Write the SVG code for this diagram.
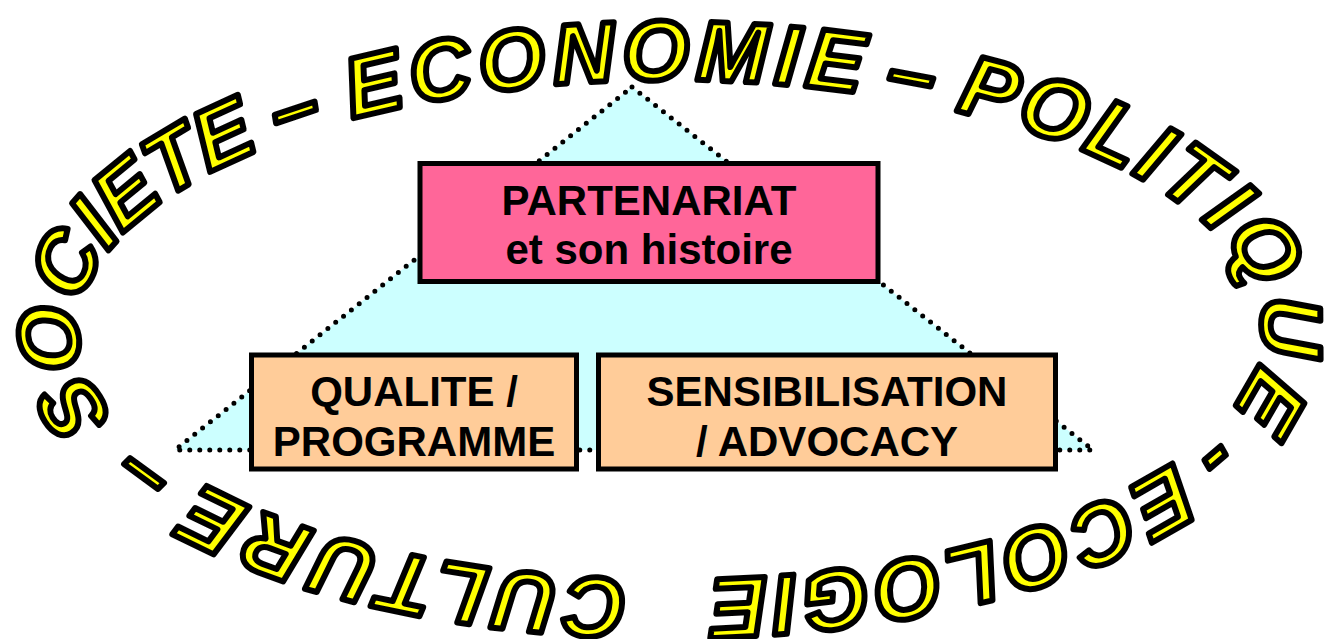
<svg xmlns="http://www.w3.org/2000/svg" width="1327" height="639" viewBox="0 0 1327 639">
<style>
.ring{font-family:"Liberation Sans",Arial,sans-serif;font-weight:bold;font-style:italic;font-size:85px;fill:#FFFF00;stroke:#000;stroke-width:6;stroke-linejoin:round}
.box{stroke:#000;stroke-width:5}
.lbl{font-family:"Liberation Sans",Arial,sans-serif;font-weight:bold;font-size:42px;fill:#000;text-anchor:middle}
.dots{fill:none;stroke:#000;stroke-width:5;stroke-linecap:round;stroke-dasharray:0 10}
</style>
<defs>
<path id="ell" d="M670,580 A592,250 0 0 1 78,330 A592,250 0 0 1 670,80 A592,250 0 0 1 1262,330 A592,250 0 0 1 670,580"/>
</defs>
<rect width="1327" height="639" fill="#fff"/>
<g id="triangle">
<polygon points="632,87 175,450 1093,450" fill="#CCFFFF"/>
<polygon class="dots" points="632,87 1093,450 175,450"/>
</g>
<g id="partenariat">
<rect class="box" x="420" y="163.5" width="458" height="118" fill="#FF6699"/>
<text class="lbl" x="649" y="215">PARTENARIAT</text>
<text class="lbl" x="649" y="264">et son histoire</text>
</g>
<g id="qualite">
<rect class="box" x="251.5" y="355" width="325" height="114" fill="#FFCC99"/>
<text class="lbl" x="414" y="406">QUALITE /</text>
<text class="lbl" x="414" y="456">PROGRAMME</text>
</g>
<g id="sensibilisation">
<rect class="box" x="598.5" y="355" width="457" height="114" fill="#FFCC99"/>
<text class="lbl" x="827" y="406">SENSIBILISATION</text>
<text class="lbl" x="827" y="456">/ ADVOCACY</text>
</g>
<g id="ring" text-anchor="middle">
<text class="ring" letter-spacing="7"><textPath href="#ell" startOffset="267">CULTURE</textPath></text>
<text class="ring"><textPath href="#ell" startOffset="535">–</textPath></text>
<text class="ring" letter-spacing="-1"><textPath href="#ell" startOffset="776">SOCIETE</textPath></text>
<text class="ring"><textPath href="#ell" startOffset="1005">–</textPath></text>
<text class="ring" letter-spacing="7"><textPath href="#ell" startOffset="1316">ECONOMIE</textPath></text>
<text class="ring"><textPath href="#ell" startOffset="1616">–</textPath></text>
<text class="ring" letter-spacing="4"><textPath href="#ell" startOffset="1912">POLITIQUE</textPath></text>
<text class="ring"><textPath href="#ell" startOffset="2197">-</textPath></text>
<text class="ring" letter-spacing="5"><textPath href="#ell" startOffset="2476">ECOLOGIE</textPath></text>
</g>
</svg>
